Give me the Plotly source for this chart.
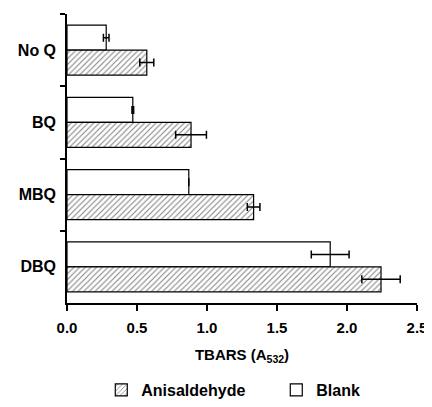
import plotly.graph_objects as go

categories = ["No Q", "BQ", "MBQ", "DBQ"]
blank_vals = [0.28, 0.47, 0.87, 1.88]
blank_err = [0.02, 0.006, 0.0, 0.135]
anis_vals = [0.57, 0.886, 1.333, 2.243]
anis_err = [0.05, 0.11, 0.045, 0.137]

font_family = "Liberation Sans, Arial, sans-serif"

fig = go.Figure()
fig.add_trace(go.Bar(
    y=categories, x=blank_vals, orientation="h", name="Blank",
    marker=dict(color="white", line=dict(color="black", width=1.2)),
    error_x=dict(type="data", array=blank_err, color="black", thickness=1.5, width=4),
    legendrank=2,
))
fig.add_trace(go.Bar(
    y=categories, x=anis_vals, orientation="h", name="Anisaldehyde",
    marker=dict(color="white", line=dict(color="black", width=1.2),
                pattern=dict(shape="/", fgcolor="black", bgcolor="white", size=4, solidity=0.25)),
    error_x=dict(type="data", array=anis_err, color="black", thickness=1.5, width=4),
    legendrank=1,
))

# page has an 8px body margin, so the figure is 424x399 and offset by 8px
fig.update_layout(
    width=424, height=399,
    margin=dict(l=59, r=15, t=6, b=104),
    paper_bgcolor="white", plot_bgcolor="white",
    barmode="group", bargap=0.31, bargroupgap=0,
    font=dict(family=font_family, color="black", size=14),
    showlegend=True,
    legend=dict(orientation="h", xref="container", x=0.22, xanchor="left",
                yref="container", y=0.0, yanchor="bottom",
                font=dict(size=16, family=font_family, weight="bold"),
                itemwidth=30, entrywidth=130),
    xaxis=dict(range=[0, 2.5], dtick=0.5, tickformat=".1f", showgrid=False, zeroline=False,
               automargin=False,
               showline=True, linecolor="black", linewidth=1.5, ticks="outside", ticklen=6,
               tickcolor="black", tickwidth=1.5, ticklabelstandoff=4,
               tickfont=dict(size=15, family=font_family, weight="bold"),
               title=dict(text="TBARS (A<sub>532</sub>)", font=dict(size=15, family=font_family, weight="bold"),
                          standoff=15)),
    yaxis=dict(autorange="reversed", showgrid=False, zeroline=False, showline=True,
               automargin=False,
               linecolor="black", linewidth=1.5, ticks="outside", tickson="boundaries",
               ticklen=5, tickcolor="black", tickwidth=1.5, ticklabelstandoff=6,
               tickfont=dict(size=16, family=font_family, weight="bold")),
)

fig.write_html("out.html")
